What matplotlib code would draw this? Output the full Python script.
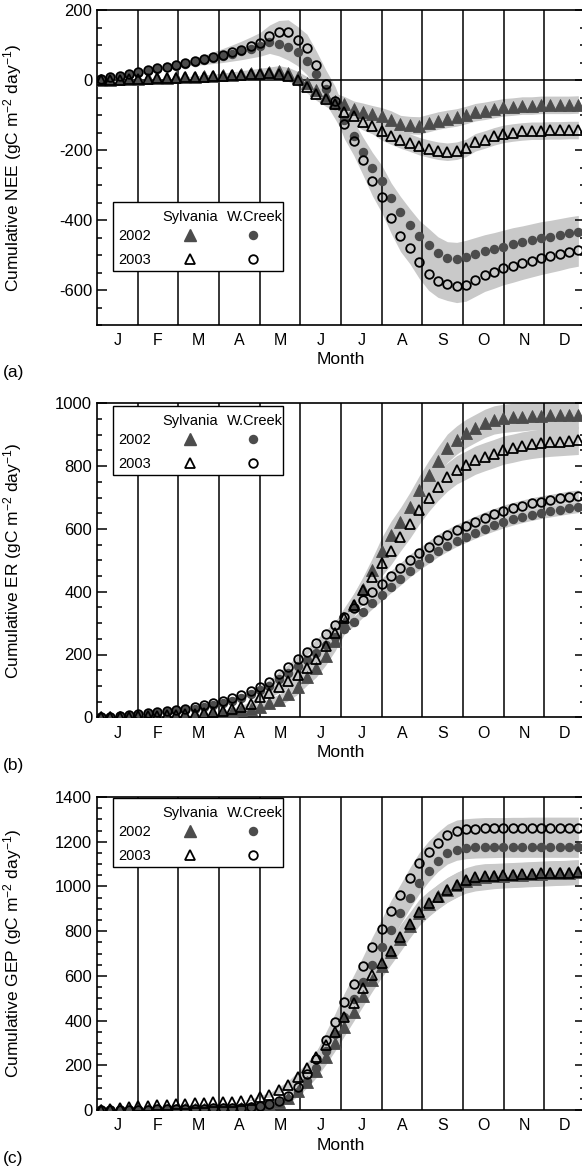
import numpy as np
import matplotlib
matplotlib.use("Agg")
import matplotlib.pyplot as plt
from matplotlib.patches import Rectangle
from matplotlib.ticker import MultipleLocator

plt.rcParams['font.family'] = ['Liberation Sans', 'DejaVu Sans']
plt.rcParams['mathtext.default'] = 'regular'
plt.rcParams['axes.unicode_minus'] = False

# weekly samples, day of year
days = np.arange(3, 365, 7)
months = ['J', 'F', 'M', 'A', 'M', 'J', 'J', 'A', 'S', 'O', 'N', 'D']

# cumulative NEE
nee_syl_02 = [0, 1, 2, 3, 4, 5, 6, 7, 8, 9, 10, 11, 12, 13, 15, 17, 19, 21, 23,
              26, 20, 8, -8, -28, -45,
              -59, -69, -83, -90, -97, -104, -113, -126, -129, -130, -123, -116, -111, -107,
              -100, -92, -88, -83, -78, -76, -73, -73, -71, -71, -71, -71, -70]
nee_syl_03 = [0, 1, 1, 2, 3, 4, 5, 6, 7, 8, 9, 10, 11, 12, 13, 15, 17, 18, 20,
              17, 12, 1, -19, -39, -55, -69, -91, -104, -119, -130, -147, -159, -170, -179,
              -189, -196, -202, -205, -202, -194, -178, -170, -161, -154, -150, -147, -145,
              -145, -144, -144, -143, -143]
nee_wc_02 = [3, 7, 10, 15, 20, 26, 31, 36, 41, 46, 51, 56, 62, 68, 75, 82, 90, 98,
             108, 103, 93, 79, 55, 17, -25, -70, -115, -159, -207, -250, -288, -338, -378,
             -413, -447, -470, -495, -509, -511, -505, -497, -489, -483, -476, -469, -464,
             -458, -452, -448, -443, -438, -434]
nee_wc_03 = [4, 8, 12, 17, 22, 28, 33, 38, 43, 48, 53, 59, 65, 72, 79, 87, 96, 106,
             125, 136, 136, 115, 91, 43, -11, -59, -126, -173, -229, -288, -335, -394, -445,
             -480, -521, -555, -574, -583, -589, -585, -571, -557, -548, -538, -531, -523,
             -516, -509, -503, -497, -490, -485]
nee_syl_band = [0] * 10 + [2, 4, 5, 7, 8, 10, 11, 13, 14, 15, 16, 17, 18, 19, 20, 21, 22, 23, 24, 24] + [25] * 22
nee_wc_band = [0] * 8 + [3, 6, 9, 12, 15, 18, 21, 24, 27, 30, 32, 34, 36, 38, 40, 40, 41, 41, 42, 42,
                         43, 43, 44, 44, 45, 45, 46, 46] + [47] * 16

# cumulative ER
er_syl_02 = [0, 0, 1, 1, 2, 3, 3, 4, 5, 6, 7, 9, 11, 14, 18, 22, 28,
             34, 45, 55, 74, 97, 128, 156, 196, 243, 299, 357, 410, 468, 531, 581, 623, 671,
             724, 772, 816, 857, 883, 904, 920, 936, 947, 952, 955, 957, 960, 960, 963, 963,
             963, 964]
er_syl_03 = [0, 1, 1, 2, 3, 4, 5, 6, 7, 9, 11, 13, 16, 20, 25, 32, 41,
             64, 78, 96, 116, 135, 156, 185, 226, 270, 316, 358, 405, 448, 492, 531, 575, 615,
             660, 700, 735, 765, 788, 803, 819, 830, 840, 851, 857, 864, 869, 873, 876, 878,
             880, 882]
er_wc_02 = [0, 1, 3, 5, 7, 10, 13, 16, 20, 24, 28, 33, 38, 44, 52, 62, 74,
            87, 100, 122, 140, 163, 181, 205, 229, 256, 280, 305, 335, 363, 390, 415, 439, 465,
            487, 508, 529, 546, 562, 575, 588, 600, 611, 621, 630, 638, 645, 651, 656, 661,
            666, 670]
er_wc_03 = [0, 2, 4, 7, 10, 13, 16, 20, 24, 28, 33, 38, 44, 51, 60, 71, 83,
            97, 113, 139, 160, 187, 209, 237, 264, 294, 320, 347, 375, 400, 425, 450, 474, 501,
            522, 543, 565, 581, 597, 610, 623, 636, 647, 658, 666, 674, 681, 687, 692, 697,
            703, 706]
er_syl_band = [0] * 14 + [3, 6, 9, 12, 15, 18, 21, 24, 26, 28, 30, 32, 34, 36, 38, 40, 42, 44] + [45] * 20
er_wc_band = [0] * 14 + [2, 3, 4, 5, 6, 7, 8, 9, 10, 11, 12, 13, 14, 15, 16, 17] + [18] * 22

# cumulative GEP
gep_syl_02 = [0, 0, 0, 1, 1, 1, 2, 2, 2, 3, 3, 4, 4, 5, 6, 8, 11,
              16, 24, 36, 55, 85, 125, 175, 235, 300, 370, 440, 510, 580, 645, 705, 765, 825,
              880, 920, 955, 985, 1008, 1025, 1035, 1040, 1045, 1048, 1050, 1052, 1054, 1056,
              1058, 1060, 1062, 1064]
gep_syl_03 = [0, 5, 10, 14, 17, 20, 22, 24, 26, 28, 30, 32, 34, 36, 38, 41, 46,
              60, 67, 89, 112, 149, 186, 235, 290, 350, 417, 480, 544, 604, 659, 713, 775, 830,
              887, 924, 954, 984, 1006, 1029, 1041, 1047, 1048, 1050, 1052, 1054, 1056, 1058,
              1060, 1061, 1062, 1064]
gep_wc_02 = [0, 0, 1, 1, 1, 2, 2, 3, 3, 4, 4, 5, 6, 7, 8, 10, 12,
             16, 22, 33, 50, 82, 130, 190, 262, 338, 418, 495, 572, 650, 730, 805, 880, 950,
             1015, 1070, 1115, 1148, 1165, 1172, 1175, 1176, 1177, 1178, 1178, 1178, 1178,
             1178, 1178, 1178, 1178, 1178]
gep_wc_03 = [0, 0, 1, 1, 2, 2, 3, 3, 4, 4, 5, 6, 7, 8, 9, 11, 14,
             19, 28, 42, 63, 104, 160, 230, 313, 395, 484, 562, 644, 730, 808, 891, 962, 1036,
             1103, 1155, 1195, 1230, 1249, 1255, 1258, 1260, 1260, 1260, 1261, 1261, 1262,
             1262, 1262, 1262, 1262, 1262]
gep_syl_band = [0] * 16 + [3, 6, 10, 14, 18, 22, 26, 30, 33, 36, 39, 42, 45, 48, 51, 53] + [55] * 20
gep_wc_band = [0] * 16 + [3, 6, 10, 14, 18, 22, 26, 30, 33, 36, 39, 41, 43, 45, 47] + [48] * 21

panels = [
    dict(name='NEE', syl=(nee_syl_02, nee_syl_03, nee_syl_band), wc=(nee_wc_02, nee_wc_03, nee_wc_band),
         ylim=(-700, 200), letter='(a)', key_top=0.391),
    dict(name='ER', syl=(er_syl_02, er_syl_03, er_syl_band), wc=(er_wc_02, er_wc_03, er_wc_band),
         ylim=(0, 1000), letter='(b)', key_top=0.991),
    dict(name='GEP', syl=(gep_syl_02, gep_syl_03, gep_syl_band), wc=(gep_wc_02, gep_wc_03, gep_wc_band),
         ylim=(0, 1400), letter='(c)', key_top=0.996),
]

W, H = 582, 1168
fig = plt.figure(figsize=(W / 100, H / 100), dpi=100)
# axes boxes in pixels: (top, bottom)
boxes = [(10, 325), (403.3, 717.3), (797, 1110)]
ax_left, ax_right = 97, 585

band_col = '#c9c9c9'
dark = '#4c4c4c'
x = days / 365.0 * 12

for p, (top, bot) in zip(panels, boxes):
    ax = fig.add_axes([ax_left / W, 1 - bot / H, (ax_right - ax_left) / W, (bot - top) / H])
    ax_h = bot - top
    ax_w = ax_right - ax_left

    for y02, y03, band in (p['syl'], p['wc']):
        for yy in (y02, y03):
            yy = np.array(yy, float)
            b = np.array(band, float)
            ax.fill_between(x, yy - b, yy + b, color=band_col, lw=0, zorder=1)

    for mb in range(1, 12):
        ax.axvline(mb, color='black', lw=1.1, zorder=2)
    if p['ylim'][0] < 0:
        ax.axhline(0, color='black', lw=1.1, zorder=2)

    s02, s03, _ = p['syl']
    w02, w03, _ = p['wc']
    ax.plot(x, w02, 'o', ms=6.8, mfc=dark, mec=dark, mew=0, zorder=3)
    ax.plot(x, s02, '^', ms=8.3, mfc=dark, mec=dark, mew=0.6, zorder=3)
    ax.plot(x, w03, 'o', ms=6.2, mfc='none', mec='black', mew=1.3, zorder=4)
    ax.plot(x, s03, '^', ms=7.8, mfc='none', mec='black', mew=1.3, zorder=4)

    ax.set_xlim(0, 12)
    ax.set_ylim(*p['ylim'])
    ax.set_xticks(np.arange(12) + 0.5)
    ax.set_xticklabels(months, fontsize=11.5)
    ax.tick_params(axis='x', length=0, pad=6)
    ax.yaxis.set_major_locator(MultipleLocator(200))
    ax.yaxis.set_minor_locator(MultipleLocator(50))
    ax.tick_params(axis='y', which='both', direction='in', left=True, right=True,
                   labelsize=12, width=1.1)
    ax.tick_params(axis='y', which='major', length=7)
    ax.tick_params(axis='y', which='minor', length=3.5)
    for sp in ax.spines.values():
        sp.set_linewidth(1.2)

    ax.set_xlabel('Month', fontsize=12.5, labelpad=3)
    ax.set_ylabel('Cumulative %s (gC m$^{-2}$ day$^{-1}$)' % p['name'], fontsize=12.5)
    ax.yaxis.set_label_coords((24 - ax_left) / ax_w, 0.5)

    fig.text(3 / W, 1 - (bot + 48) / H, p['letter'], fontsize=12.5, va='center', ha='left')

    # key box
    kx0 = 16 / ax_w
    kw, kh = 170 / ax_w, 69 / ax_h
    ky1 = p['key_top']
    ax.add_patch(Rectangle((kx0, ky1 - kh), kw, kh, transform=ax.transAxes,
                           facecolor='white', edgecolor='black', lw=1.0, zorder=6))

    def kp(px, py):
        return kx0 + px / ax_w, ky1 - py / ax_h

    kw_txt = dict(transform=ax.transAxes, fontsize=10.5, ha='center', va='center', zorder=7)
    ax.text(*kp(77, 15), 'Sylvania', **kw_txt)
    ax.text(*kp(142, 15), 'W.Creek', **kw_txt)
    ax.text(*kp(22, 34), '2002', **kw_txt)
    ax.text(*kp(22, 58), '2003', **kw_txt)
    kx, ky = kp(77, 33)
    ax.plot([kx], [ky], '^', ms=8.3, mfc=dark, mec=dark, transform=ax.transAxes, zorder=7, clip_on=False)
    kx, ky = kp(140, 33)
    ax.plot([kx], [ky], 'o', ms=6.8, mfc=dark, mec=dark, mew=0, transform=ax.transAxes, zorder=7, clip_on=False)
    kx, ky = kp(77, 57)
    ax.plot([kx], [ky], '^', ms=7.8, mfc='none', mec='black', mew=1.3, transform=ax.transAxes, zorder=7, clip_on=False)
    kx, ky = kp(140, 57)
    ax.plot([kx], [ky], 'o', ms=6.2, mfc='none', mec='black', mew=1.3, transform=ax.transAxes, zorder=7, clip_on=False)

fig.savefig('out.png', dpi=100)
